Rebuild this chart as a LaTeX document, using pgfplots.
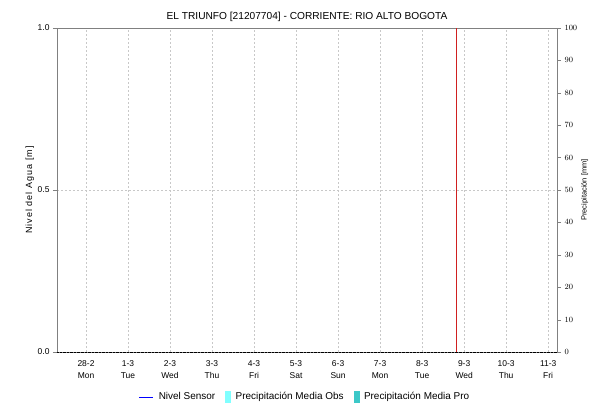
\documentclass[border=0pt]{standalone}
\usepackage{fontspec}
\setmainfont{Liberation Sans}
\usepackage{pgfplots}
\pgfplotsset{compat=1.18}
\definecolor{obs}{HTML}{80FFFF}
\definecolor{pro}{HTML}{3CC8C8}
\definecolor{axgray}{HTML}{808080}
\definecolor{gridgray}{HTML}{C8C8C8}
\definecolor{nowred}{HTML}{D02020}
\definecolor{sensorblue}{HTML}{0000FF}
\pgfplotsset{
  shortline/.style={legend image code/.code={\draw[sensorblue, line width=1bp] (0bp,0bp) -- (14bp,0bp);}},
  obsbox/.style={legend image code/.code={\fill[obs] (0bp,-5bp) rectangle (5bp,6bp);}},
  probox/.style={legend image code/.code={\fill[pro] (0bp,-5bp) rectangle (5bp,6bp);}},
}
\begin{document}
\begin{tikzpicture}
\path[use as bounding box] (-57bp,-52bp) rectangle (533bp,352bp);
\begin{axis}[
  at={(0,0)}, anchor=south west,
  scale only axis, width=500bp, height=324bp,
  xmin=-0.69, xmax=11.21, ymin=0, ymax=1,
  xtick={0,1,2,3,4,5,6,7,8,9,10,11},
  xticklabels={28-2\\Mon,1-3\\Tue,2-3\\Wed,3-3\\Thu,4-3\\Fri,5-3\\Sat,6-3\\Sun,7-3\\Mon,8-3\\Tue,9-3\\Wed,10-3\\Thu,11-3\\Fri},
  xticklabel style={align=center, font=\fontsize{8.5}{12}\selectfont, yshift=-1bp},
  ytick={0,0.5,1}, yticklabels={0.0,0.5,1.0},
  yticklabel style={font=\fontsize{8.5}{10}\selectfont},
  ytick pos=left,
  tick align=outside, major tick length=4bp,
  xtick style={draw=none},
  ytick style={axgray},
  axis line style={axgray},
  xmajorgrids, ymajorgrids,
  grid style={gridgray, dash pattern=on 2bp off 2bp},
  ylabel={Nivel del Agua [m]},
  ylabel style={font=\fontsize{9}{10}\selectfont\addfontfeature{LetterSpace=12}, yshift=-3bp},
  title={EL TRIUNFO [21207704] - CORRIENTE: RIO ALTO BOGOTA},
  title style={font=\fontsize{10.2}{12}\selectfont, yshift=-3bp},
  legend style={at={(0.496,-0.139)}, anchor=center, draw=none, fill=none,
    font=\fontsize{10}{12}\selectfont, legend columns=3,
    /tikz/every odd column/.append style={column sep=3bp},
    /tikz/every even column/.append style={column sep=8bp}},
  legend cell align=left,
  clip=false,
]
\addlegendimage{shortline}
\addlegendentry{Nivel Sensor}
\addlegendimage{obsbox}
\addlegendentry{Precipitación Media Obs}
\addlegendimage{probox}
\addlegendentry{Precipitación Media Pro}
\addplot[black, densely dotted, forget plot] coordinates {(-0.69,0) (11.21,0)};
\addplot[nowred, thin, forget plot] coordinates {(8.82,0) (8.82,1)};
\node[rotate=90, anchor=north, font=\fontsize{7.5}{9}\selectfont, inner sep=0pt]
  at ([xshift=24bp]rel axis cs:1,0.5) {Precipitación [mm]};
\end{axis}
\begin{axis}[
  at={(0,0)}, anchor=south west,
  scale only axis, width=500bp, height=324bp,
  xmin=-0.69, xmax=11.21, ymin=0, ymax=100,
  axis x line=none, axis y line*=right,
  ytick distance=10,
  yticklabel style={font=\fontsize{8.5}{10}\selectfont},
  tick align=outside, major tick length=4bp,
  ytick style={axgray},
  axis line style={axgray},
]
\end{axis}
\end{tikzpicture}
\end{document}
